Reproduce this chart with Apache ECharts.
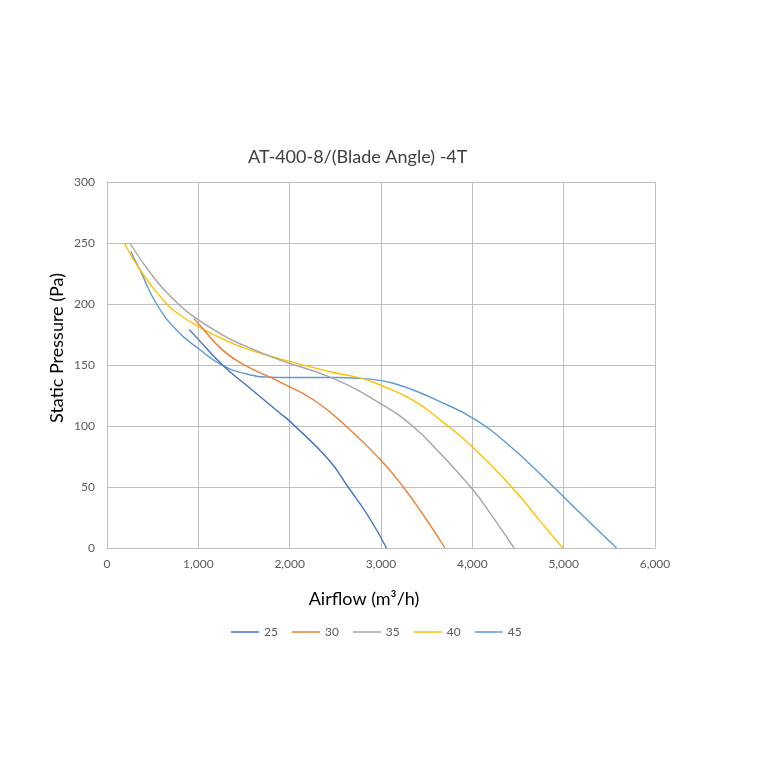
<!DOCTYPE html>
<html>
<head>
<meta charset="utf-8">
<script src="https://cdn.jsdelivr.net/npm/echarts@6/dist/echarts.min.js"></script>
<style>
html,body{margin:0;padding:0;background:#fff;}
#chart{width:760px;height:760px;}
</style>
</head>
<body>
<div id="chart"></div>
<script>
var seriesNames = ['25', '30', '35', '40', '45'];
var seriesColors = ['#4472C4', '#ED7D31', '#A5A5A5', '#FFC000', '#5B9BD5'];

var airflow25  = [900, 1000, 1270, 1500, 1895, 2000, 2423, 2640, 2870, 3060];
var pressure25 = [179, 171, 149.5, 135, 110.5, 104, 72.7, 50, 25, 0];

var airflow30  = [950, 1000, 1270, 1530, 1785, 1895, 2260, 2625, 2990, 3244, 3500, 3700];
var pressure30 = [188, 184, 162, 149, 140, 136, 121.5, 99.4, 72.7, 50, 23, 0];

var airflow35  = [250, 500, 781, 1000, 1330, 1500, 1895, 2442, 2990, 3354, 3647, 4000, 4195, 4457];
var pressure35 = [250, 223, 200, 187, 172, 166, 154, 140, 118.6, 99.4, 77.6, 48.3, 28.6, 0];

var airflow40  = [190, 362, 654, 800, 1000, 1250, 1500, 1895, 2442, 2789, 2990, 3354, 3647, 4000, 4431, 4747, 4990];
var pressure40 = [250, 228, 200, 191, 181.5, 172, 164, 155, 144.5, 139, 133.6, 121, 105, 83, 50, 21.6, 0];

var airflow45  = [260, 369, 543, 763, 1000, 1270, 1530, 1785, 2000, 2500, 2750, 2990, 3170, 3354, 3647, 4000, 4377, 4890, 5180, 5580];
var pressure45 = [243, 226.5, 200, 178.5, 163.5, 149.5, 142.6, 140, 139.7, 139.7, 139.2, 137.4, 134.2, 129.5, 120, 106.6, 85.9, 50, 28.6, 0];

var xTicks = [0, 1000, 2000, 3000, 4000, 5000, 6000];
var yTicks = [0, 50, 100, 150, 200, 250, 300];

var allX = [airflow25, airflow30, airflow35, airflow40, airflow45];
var allY = [pressure25, pressure30, pressure35, pressure40, pressure45];

var FONT = 'Lato';

function pairs(xs, ys) {
  var out = [];
  for (var i = 0; i < xs.length; i++) out.push([xs[i], ys[i]]);
  return out;
}

var series = seriesNames.map(function (name, i) {
  return {
    name: name,
    type: 'line',
    data: pairs(allX[i], allY[i]),
    smooth: 0.5,
    symbol: 'none',
    showSymbol: false,
    lineStyle: { color: seriesColors[i], width: 1.4 },
    itemStyle: { color: seriesColors[i] },
    z: 10 - i
  };
});

var chart = echarts.init(document.getElementById('chart'), null, { renderer: 'canvas' });
chart.setOption({
  backgroundColor: '#ffffff',
  animation: false,
  textStyle: { fontFamily: FONT },
  title: {
    text: 'AT-400-8/(Blade Angle) -4T',
    left: 243,
    top: 143,
    textStyle: { fontFamily: FONT, fontSize: 18, fontWeight: 'normal', color: '#404040' }
  },
  grid: { left: 107, right: 105, top: 182, bottom: 212, containLabel: false },
  xAxis: {
    type: 'value',
    min: xTicks[0],
    max: xTicks[xTicks.length - 1],
    interval: xTicks[1] - xTicks[0],
    axisLine: { show: true, lineStyle: { color: '#bfbfbf', width: 1 } },
    axisTick: { show: false },
    axisLabel: {
      color: '#595959', fontSize: 12, fontFamily: FONT, margin: 10,
      formatter: function (v) { return v.toLocaleString('en-US'); }
    },
    splitLine: { show: true, lineStyle: { color: '#bfbfbf', width: 1 } }
  },
  yAxis: {
    type: 'value',
    min: yTicks[0],
    max: yTicks[yTicks.length - 1],
    interval: yTicks[1] - yTicks[0],
    axisLine: { show: true, lineStyle: { color: '#bfbfbf', width: 1 } },
    axisTick: { show: false },
    axisLabel: { color: '#595959', fontSize: 12, fontFamily: FONT, margin: 12 },
    splitLine: { show: true, lineStyle: { color: '#bfbfbf', width: 1 } }
  },
  legend: {
    data: seriesNames,
    top: 620,
    left: 226,
    icon: 'rect',
    itemWidth: 28,
    itemHeight: 1.5,
    itemGap: 14,
    textStyle: { color: '#595959', fontSize: 12, fontFamily: FONT, lineHeight: 14 }
  },
  graphic: [
    {
      type: 'text',
      x: 364, y: 590,
      style: { text: 'Airflow (m³/h)', fontSize: 18, fontFamily: FONT, fill: '#000', textAlign: 'center' }
    },
    {
      type: 'text',
      x: 57, y: 348,
      rotation: Math.PI / 2,
      style: { text: 'Static Pressure (Pa)', fontSize: 18, fontFamily: FONT, fill: '#000', textAlign: 'center', textVerticalAlign: 'middle' }
    }
  ],
  series: series
});
</script>
</body>
</html>
